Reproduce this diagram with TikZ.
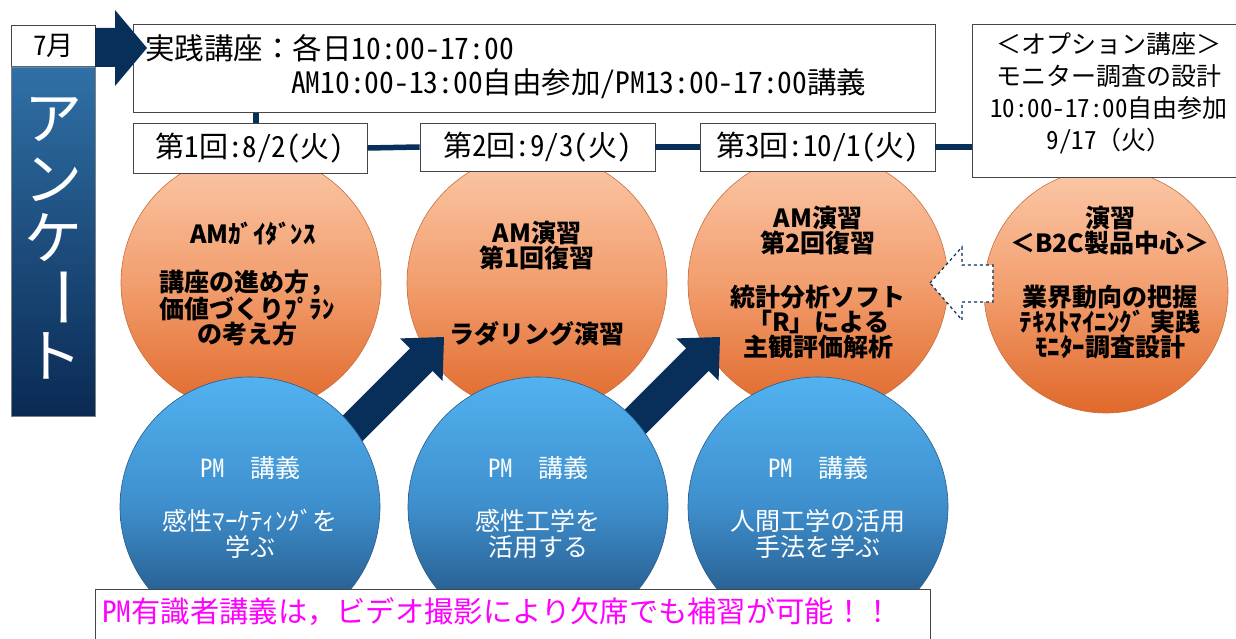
\documentclass[tikz,border=0pt]{standalone}
\usepackage{fontspec}
\setmainfont{Noto Sans CJK JP}
\newfontfamily\hw{Noto Sans CJK JP}[RawFeature=+hwid]
\newcommand\hx[1]{{\hw #1}}
\definecolor{navy}{RGB}{8,46,90}
\definecolor{orTop}{RGB}{251,200,168}
\definecolor{orMid}{RGB}{242,158,110}
\definecolor{orBot}{RGB}{224,104,42}
\definecolor{orEdge}{RGB}{200,110,60}
\definecolor{blTop}{RGB}{82,178,240}
\definecolor{blMid}{RGB}{62,142,204}
\definecolor{blBot}{RGB}{30,74,118}
\definecolor{blEdge}{RGB}{40,90,140}
\definecolor{colTop}{RGB}{48,112,166}
\definecolor{colBot}{RGB}{10,42,84}
\definecolor{boxline}{RGB}{70,70,70}
\definecolor{pink}{RGB}{255,0,255}
\tikzset{
  box/.style={draw=boxline, line width=0.9pt, fill=white, inner sep=0pt},
  orc/.style={circle, inner sep=0pt, draw=orEdge, line width=0.6pt, top color=orTop, bottom color=orBot, middle color=orMid},
  blc/.style={circle, inner sep=0pt, draw=blEdge, line width=0.6pt, top color=blTop, bottom color=blBot, middle color=blMid},
  navyline/.style={draw=navy, line width=5.5pt},
  ortext/.style={align=center, inner sep=0pt, font=\fontsize{25}{25}\selectfont\bfseries},
  bltext/.style={align=center, inner sep=0pt, text=white, font=\fontsize{25}{26}\selectfont},
  vchar/.style={text=white, inner sep=0pt, font=\fontsize{58}{58}\selectfont},
  stext/.style={font=\hw\fontsize{29}{29}\selectfont},
}
\begin{document}
\begin{tikzpicture}[x=1pt,y=-1pt]
\useasboundingbox (0,0) rectangle (1236,639);
\clip (0,0) rectangle (1236,639);

% orange circles
\node[orc, minimum size=260pt] (o1) at (251,283) {};
\node[orc, minimum size=260pt] (o2) at (537,283) {};
\node[orc, minimum size=260pt] (o3) at (818,283) {};
\node[orc, minimum size=244pt] (o4) at (1106,291) {};

% boxes
\node[box, anchor=north west, minimum width=802pt, minimum height=88pt] (hdr) at (133,24) {};
\node[box, stext, minimum width=234pt, minimum height=50pt] (s1) at (250,148) {第1回:8/2(火)};
\node[box, stext, minimum width=235pt, minimum height=48pt] (s2) at (537.5,147) {第2回:9/3(火)};
\node[box, stext, minimum width=235pt, minimum height=48pt] (s3) at (817.5,147) {第3回:10/1(火)};
\node[box, anchor=north west, minimum width=280pt, minimum height=153pt] (opt) at (972,24) {};

% connectors
\coordinate (c1) at ([xshift=6pt]s1.north);
\draw[navyline] (c1) -- (c1 |- hdr.south);
\draw[navyline] (s1.east) -- (s2.west);
\draw[navyline] (s2.east) -- (s3.west);
\draw[navyline] (s3.east) -- (s3.east -| opt.west);

% header texts
\node[anchor=west, inner sep=0pt, font=\fontsize{29.5}{29}\selectfont] (h1) at (145,48) {実践講座：各日\hx{10:00-17:00}};
\node[anchor=west, inner sep=0pt, font=\fontsize{29.5}{29}\selectfont] (h2) at (291,84) {\hx{AM10:00-13:00}自由参加\hx{/PM13:00-17:00}講義};
\node[align=center, inner sep=0pt, font=\fontsize{25}{32}\selectfont] (optt) at (1109,93) {＜オプション講座＞\\モニター調査の設計\\\hx{10:00-17:00}自由参加\\\hx{9/17}（火）};

% left column
\node[box, anchor=north west, minimum width=84pt, minimum height=42pt, font=\hw\fontsize{27}{27}\selectfont] (m7) at (11,25) {7月};
\path[top color=colTop, bottom color=colBot, draw=gray] (11,67) rectangle (95,416);
\node[vchar] (v1) at (53,120) {ア};
\node[vchar] (v2) at (53,180) {ン};
\node[vchar] (v3) at (53,238) {ケ};
\node[vchar, rotate=-90, font=\fontsize{64}{64}\selectfont] (v4) at (53,297) {ー};
\node[vchar] (v5) at (53,356) {ト};

% big top arrow
\fill[navy] (95,28) -- (115,28) -- (115,10) -- (147,48) -- (115,86) -- (115,67) -- (95,67) -- cycle;

% orange circle texts
\node[ortext] (a1) at (253,234) {AMｶﾞｲﾀﾞﾝｽ};
\node[ortext] (a2) at (247,308) {講座の進め方，\\価値づくりﾌﾟﾗﾝ\\の考え方};
\node[ortext] (b1t) at (537,246) {AM演習\\第1回復習};
\node[ortext] (b2t) at (537,334) {ラダリング演習};
\node[ortext] (c1t) at (818,231) {AM演習\\第2回復習};
\node[ortext] (c2t) at (818,322) {統計分析ソフト\\「R」による\\主観評価解析};
\node[ortext] (d1t) at (1110,231) {演習\\＜B2C製品中心＞};
\node[ortext] (d2t) at (1110,322) {業界動向の把握\\ﾃｷｽﾄﾏｲﾆﾝｸﾞ 実践\\ﾓﾆﾀｰ調査設計};

% navy arrows
\begin{scope}[shift={(444,337)}, rotate=45]
\fill[navy] (0,0) -- (-32,30) -- (-32,16) -- (-152,16) -- (-152,-16) -- (-32,-16) -- (-32,-30) -- cycle;
\end{scope}
\begin{scope}[shift={(720,337)}, rotate=45]
\fill[navy] (0,0) -- (-32,30) -- (-32,16) -- (-152,16) -- (-152,-16) -- (-32,-16) -- (-32,-30) -- cycle;
\end{scope}

% blue circles
\node[blc, minimum size=260pt] (p1) at (250,507) {};
\node[blc, minimum size=260pt] (p2) at (538,507) {};
\node[blc, minimum size=260pt] (p3) at (818,507) {};
\node[bltext] (p1a) at (250,468) {\hx{PM}　講義};
\node[bltext] (p1b) at (250,534) {感性ﾏｰｹﾃｨﾝｸﾞを\\学ぶ};
\node[bltext] (p2a) at (538,468) {\hx{PM}　講義};
\node[bltext] (p2b) at (538,534) {感性工学を\\活用する};
\node[bltext] (p3a) at (818,468) {\hx{PM}　講義};
\node[bltext] (p3b) at (818,534) {人間工学の活用\\手法を学ぶ};

% dashed hollow arrow
\draw[navy, dashed, line width=1.2pt, fill=white] (930,283) -- (962,247) -- (962,265) -- (993,265) -- (993,302) -- (962,302) -- (962,320) -- cycle;

% bottom box
\node[box, anchor=north west, minimum width=835pt, minimum height=60pt] (bot) at (95,589) {};
\node[anchor=west, inner sep=0pt, text=pink, font=\fontsize{29.3}{29}\selectfont] (bott) at (102,612) {\hx{PM}有識者講義は，ビデオ撮影により欠席でも補習が可能！！};
\end{tikzpicture}
\end{document}
